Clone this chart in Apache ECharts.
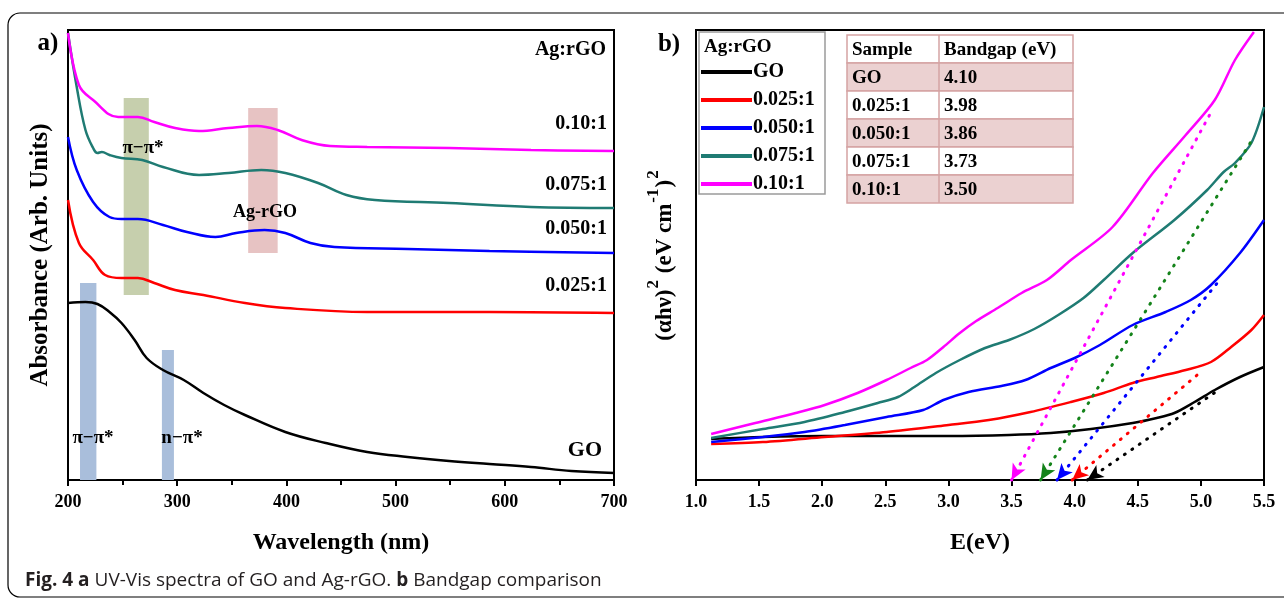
<!DOCTYPE html>
<html>
<head>
<meta charset="utf-8">
<title>UV-Vis spectra and bandgap of GO / Ag-rGO</title>
<script src="https://cdn.jsdelivr.net/npm/echarts@6/dist/echarts.min.js"></script>
<style>
  html, body { margin: 0; padding: 0; background: #fff; }
  #chart { width: 1284px; height: 601px; }
</style>
</head>
<body>
<div id="chart"></div>
<script>
// samples (legend, curve labels, table)
const samples = ['GO', '0.025:1', '0.050:1', '0.075:1', '0.10:1'];
const bandgaps = [4.10, 3.98, 3.86, 3.73, 3.50];

// a) UV-Vis absorbance, [wavelength nm, arb. units]
const uvGO = [[200,177],[216,178],[227,176],[238,168],[249,157],[261,140],[272,122],[287,110],[306,100],[324,87],[343,75],[362,65],[399,48],[436,37],[474,28],[511,23],[549,19],[586,16],[624,13],[661,9],[700,7]];
const uv025 = [[200,280],[210,237],[223,220],[234,205],[249,202],[264,202],[279,197],[298,190],[324,185],[362,177],[399,172],[474,168],[586,168],[700,167]];
const uv050 = [[200,343],[208,310],[223,278],[238,263],[249,261],[264,261],[287,255],[309,248],[335,243],[354,247],[380,250],[399,247],[422,237],[444,233],[511,231],[586,229],[700,227]];
const uv075 = [[200,447],[208,393],[216,350],[223,332],[227,327],[231,328],[238,325],[249,322],[268,320],[287,313],[320,305],[347,307],[377,310],[399,307],[429,297],[455,285],[481,280],[549,277],[624,273],[700,272]];
const uv010 = [[200,447],[210,395],[223,380],[246,363],[264,363],[279,358],[298,352],[320,349],[347,352],[373,354],[392,350],[414,340],[440,334],[474,333],[549,332],[624,330],[700,329]];

// absorption bands: from / to (nm), low / high (arb. units)
const bandLabels = ['π−π*', 'n−π*', 'π−π*', 'Ag-rGO'];
const bandFrom = [211, 286, 251, 365];
const bandTo = [226, 297, 274, 392];
const bandLow = [0, 0, 185, 227];
const bandHigh = [197, 130, 382, 372];

// b) Tauc plot, [E eV, (ahv)^2 arb.]
const taucGO = [[1.12,41],[1.53,43],[2.02,44],[2.51,44],[3.00,44],[3.48,45],[3.81,47],[4.13,51],[4.46,57],[4.65,62],[4.79,67],[4.95,78],[5.11,90],[5.31,103],[5.50,113]];
const tauc025 = [[1.12,36],[1.53,38],[2.02,43],[2.51,48],[3.00,55],[3.32,60],[3.65,68],[3.97,78],[4.23,87],[4.46,97],[4.65,103],[4.88,110],[5.08,118],[5.24,133],[5.40,150],[5.50,165]];
const tauc050 = [[1.12,38],[1.53,43],[1.86,48],[2.18,55],[2.51,63],[2.80,70],[2.96,80],[3.16,88],[3.42,94],[3.61,100],[3.81,112],[4.00,122],[4.20,135],[4.46,155],[4.72,168],[4.92,180],[5.08,195],[5.31,227],[5.50,260]];
const tauc075 = [[1.12,42],[1.53,51],[1.86,58],[2.18,68],[2.44,77],[2.60,83],[2.73,93],[2.90,107],[3.09,120],[3.29,132],[3.48,140],[3.68,151],[3.87,165],[4.07,182],[4.23,200],[4.46,227],[4.79,260],[5.05,290],[5.18,308],[5.27,317],[5.40,337],[5.50,373]];
const tauc010 = [[1.12,46],[1.47,57],[1.79,67],[2.02,75],[2.28,87],[2.51,100],[2.70,112],[2.83,120],[2.96,133],[3.09,147],[3.22,159],[3.39,172],[3.58,187],[3.78,200],[3.97,220],[4.30,253],[4.62,307],[4.88,345],[5.11,380],[5.27,420],[5.42,448]];

// upper end of the dotted linear fits (start is the bandgap on the axis)
const fitEndE = [5.14, 4.99, 5.13, 5.42, 5.09];
const fitEndY = [90, 107, 197, 343, 370];

const uvData = [uvGO, uv025, uv050, uv075, uv010];
const taucData = [taucGO, tauc025, tauc050, tauc075, tauc010];

const lineColors = ['#000000', '#ff0000', '#0000ff', '#1f7b73', '#ff00ff'];
const fitColors = ['#000000', '#ff0000', '#0000ff', '#14831a', '#ff00ff'];
const bandColors = ['#a9bedb', '#a9bedb', '#c6cfad', '#e7c3c3'];
const serif = '"Liberation Serif", "Times New Roman", serif';

const chart = echarts.init(document.getElementById('chart'), null, { renderer: 'canvas' });

function xAxisBase(grid) {
  return {
    gridIndex: grid,
    type: 'value',
    nameLocation: 'middle',
    nameGap: 51,
    nameTextStyle: { fontFamily: serif, fontWeight: 'bold', fontSize: 24, color: '#000' },
    axisLine: { lineStyle: { color: '#000', width: 2 } },
    axisTick: { length: 6, lineStyle: { color: '#000', width: 2 } },
    axisLabel: { fontFamily: serif, fontWeight: 'bold', fontSize: 18, color: '#000', margin: 13 },
    splitLine: { show: false }
  };
}

function yAxisBase(grid) {
  return {
    gridIndex: grid,
    type: 'value',
    min: 0,
    max: 450,
    nameLocation: 'middle',
    nameRotate: 90,
    axisLine: { lineStyle: { color: '#000', width: 2 } },
    axisTick: { show: false },
    axisLabel: { show: false },
    splitLine: { show: false }
  };
}

const series = [];
// a) spectra
uvData.forEach((d, i) => {
  series.push({
    name: samples[i],
    type: 'line',
    xAxisIndex: 0,
    yAxisIndex: 0,
    data: d,
    smooth: 0.4,
    showSymbol: false,
    z: 3,
    lineStyle: { color: lineColors[i], width: 2.5 },
    itemStyle: { color: lineColors[i] }
  });
});
// a) shaded bands
series.push({
  name: 'bands',
  type: 'line',
  xAxisIndex: 0,
  yAxisIndex: 0,
  data: [],
  markArea: {
    silent: true,
    data: bandFrom.map((f, i) => [
      { xAxis: f, yAxis: bandLow[i], itemStyle: { color: bandColors[i], opacity: 1 } },
      { xAxis: bandTo[i], yAxis: bandHigh[i] }
    ])
  }
});
// b) Tauc curves with dotted fits and arrows
taucData.forEach((d, i) => {
  series.push({
    name: samples[i],
    type: 'line',
    xAxisIndex: 1,
    yAxisIndex: 1,
    data: d,
    smooth: 0.3,
    showSymbol: false,
    lineStyle: { color: lineColors[i], width: 2.5 },
    itemStyle: { color: lineColors[i] },
    markLine: {
      silent: true,
      symbol: ['arrow', 'none'],
      symbolSize: [11, 16],
      label: { show: false },
      lineStyle: { color: fitColors[i], width: 3, type: [1, 8], cap: 'round' },
      itemStyle: { color: fitColors[i] },
      data: [[{ coord: [bandgaps[i], 0] }, { coord: [fitEndE[i], fitEndY[i]] }]]
    }
  });
});

// curve labels, band labels etc. for panel a)
const labelY = [450, 286, 229, 185, 124];
const bandTextPos = [[93, 438], [182, 438], [143, 148], [265, 212]];
const textStyleSerif = (size) => ({ fontFamily: serif, fontWeight: 'bold', fontSize: size, fill: '#000' });

const graphics = [];
// outer frame
graphics.push({
  type: 'rect', silent: true, z: 0,
  shape: { x: 8, y: 13, width: 1300, height: 584, r: 12 },
  style: { fill: null, stroke: '#000', lineWidth: 1.2 }
});
graphics.push({ type: 'text', x: 48, y: 44, style: Object.assign({ text: 'a)', align: 'center', verticalAlign: 'middle' }, textStyleSerif(25)) });
graphics.push({ type: 'text', x: 669, y: 45, style: Object.assign({ text: 'b)', align: 'center', verticalAlign: 'middle' }, textStyleSerif(25)) });
graphics.push({ type: 'text', x: 606, y: 50, style: Object.assign({ text: 'Ag:rGO', align: 'right', verticalAlign: 'middle' }, textStyleSerif(20)) });
samples.forEach((s, i) => {
  graphics.push({ type: 'text', x: i === 0 ? 602 : 607, y: labelY[i], z: 10, style: Object.assign({ text: s, align: 'right', verticalAlign: 'middle' }, textStyleSerif(i === 0 ? 22 : 20)) });
});
bandLabels.forEach((t, i) => {
  graphics.push({ type: 'text', x: bandTextPos[i][0], y: bandTextPos[i][1], z: 10, style: Object.assign({ text: t, align: 'center', verticalAlign: 'middle' }, textStyleSerif(i === 3 ? 18 : 19)) });
});

// legend box for panel b)
graphics.push({
  type: 'rect', silent: true, z: 5,
  shape: { x: 699, y: 32, width: 126, height: 162 },
  style: { fill: '#fff', stroke: '#9a9a9a', lineWidth: 1.5 }
});
graphics.push({ type: 'text', x: 704, y: 47, z: 6, style: Object.assign({ text: 'Ag:rGO', align: 'left', verticalAlign: 'middle' }, textStyleSerif(19)) });

// bandgap table
const tX = 847, tY = 35, tW = 226, colX = 939, rowH = 28;
const tableRows = [['Sample', 'Bandgap (eV)']].concat(samples.map((s, i) => [s, bandgaps[i].toFixed(2)]));
tableRows.forEach((r, i) => {
  const y = tY + i * rowH;
  graphics.push({
    type: 'rect', silent: true, z: 5,
    shape: { x: tX, y: y, width: tW, height: rowH },
    style: { fill: i % 2 === 1 ? '#ebd1d1' : '#ffffff', stroke: '#d5a3a3', lineWidth: 1.5 }
  });
  graphics.push({ type: 'text', x: tX + 5, y: y + rowH / 2 + 1, z: 6, style: Object.assign({ text: r[0], align: 'left', verticalAlign: 'middle' }, textStyleSerif(19)) });
  graphics.push({ type: 'text', x: colX + 5, y: y + rowH / 2 + 1, z: 6, style: Object.assign({ text: r[1], align: 'left', verticalAlign: 'middle' }, textStyleSerif(19)) });
});
graphics.push({
  type: 'line', silent: true, z: 6,
  shape: { x1: colX, y1: tY, x2: colX, y2: tY + tableRows.length * rowH },
  style: { stroke: '#d5a3a3', lineWidth: 1.5 }
});

// caption
graphics.push({
  type: 'text', x: 25, y: 581,
  style: {
    text: '{b|Fig. 4 a} UV-Vis spectra of GO and Ag-rGO. {b|b} Bandgap comparison',
    fontFamily: '"Open Sans", "Noto Sans", sans-serif',
    fontSize: 19,
    fill: '#231f20',
    verticalAlign: 'middle',
    rich: { b: { fontFamily: '"Open Sans", "Noto Sans", sans-serif', fontSize: 19, fontWeight: 'bold', fill: '#231f20' } }
  }
});

const option = {
  animation: false,
  backgroundColor: '#fff',
  grid: [
    { left: 68, top: 30, width: 546, height: 450, show: true, borderColor: '#000', borderWidth: 2, outerBoundsMode: 'none', containLabel: false },
    { left: 696, top: 30, width: 568, height: 450, show: true, borderColor: '#000', borderWidth: 2, outerBoundsMode: 'none', containLabel: false }
  ],
  xAxis: [
    Object.assign(xAxisBase(0), {
      min: 200, max: 700, interval: 100,
      name: 'Wavelength (nm)',
      minorTick: { show: true, splitNumber: 2, length: 5, lineStyle: { color: '#000', width: 2 } }
    }),
    Object.assign(xAxisBase(1), {
      min: 1.0, max: 5.5, interval: 0.5,
      name: 'E(eV)',
      axisLabel: { fontFamily: serif, fontWeight: 'bold', fontSize: 18, color: '#000', margin: 13, formatter: (v) => v.toFixed(1) }
    })
  ],
  yAxis: [
    Object.assign(yAxisBase(0), {
      name: 'Absorbance (Arb. Units)',
      nameGap: 15,
      nameTextStyle: { fontFamily: serif, fontWeight: 'bold', fontSize: 25, color: '#000' }
    }),
    Object.assign(yAxisBase(1), {
      name: '{b|(αhν)}{s|2}{b| (eV cm}{s|-1}{b|)}{s|2}',
      nameGap: 19,
      nameTextStyle: {
        fontFamily: serif, fontWeight: 'bold', fontSize: 23, color: '#000',
        rich: {
          b: { fontFamily: serif, fontWeight: 'bold', fontSize: 23, color: '#000', lineHeight: 32, verticalAlign: 'bottom' },
          s: { fontFamily: serif, fontWeight: 'bold', fontSize: 17, color: '#000', lineHeight: 32, verticalAlign: 'top', padding: [0, 1, 0, 1] }
        }
      }
    })
  ],
  legend: {
    data: samples,
    orient: 'vertical',
    left: 701,
    top: 62,
    z: 8,
    icon: 'rect',
    itemWidth: 51,
    itemHeight: 4,
    itemGap: 8,
    padding: 0,
    selectedMode: false,
    textStyle: { fontFamily: serif, fontWeight: 'bold', fontSize: 20, color: '#000', lineHeight: 20, padding: [0, 0, 0, -4] }
  },
  graphic: graphics,
  series: series
};

chart.setOption(option);
</script>
</body>
</html>
